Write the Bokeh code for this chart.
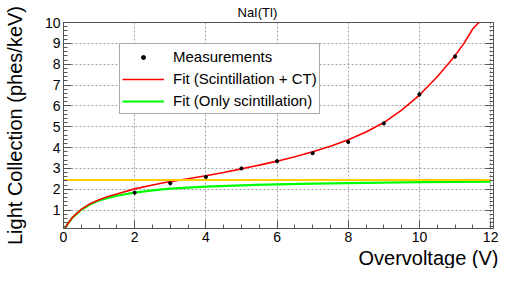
from bokeh.plotting import figure
from bokeh.models import (ColumnDataSource, Range1d, SingleIntervalTicker, LinearAxis,
                          Legend, LegendItem, Title, CustomJSTickFormatter)
from bokeh.embed import file_html
from bokeh.resources import INLINE

FONT = "Liberation Sans"

# ---- data ----
meas_x = [2, 3, 4, 5, 6, 7, 8, 9, 10, 11]
meas_y = [1.84, 2.29, 2.59, 3.00, 3.35, 3.73, 4.27, 5.16, 6.55, 8.37]
meas_err = [0.08, 0.10, 0.05, 0.03, 0.03, 0.03, 0.05, 0.03, 0.10, 0.10]

fit_ct_x = [0, 0.1, 0.25, 0.5, 0.75, 1, 1.25, 1.5, 2, 2.5, 3, 3.5, 4, 4.5, 5, 5.5,
            6, 6.5, 7, 7.5, 8, 8.5, 9, 9.5, 10, 10.5, 11, 11.25, 11.5, 11.67, 11.8]
fit_ct_y = [0, 0.30, 0.65, 1.04, 1.31, 1.50, 1.65, 1.77, 2.02, 2.21, 2.37, 2.51, 2.65, 2.81,
            2.98, 3.16, 3.35, 3.56, 3.80, 4.07, 4.38, 4.75, 5.20, 5.80, 6.52, 7.40, 8.41,
            9.00, 9.70, 10.0, 10.5]

fit_sc_x = [0, 0.1, 0.25, 0.5, 0.75, 1, 1.25, 1.5, 2, 2.5, 3, 4, 5, 6, 7, 8, 9, 10, 11, 12]
fit_sc_y = [0, 0.30, 0.64, 1.02, 1.28, 1.46, 1.59, 1.69, 1.84, 1.95, 2.03, 2.13, 2.19, 2.24,
            2.27, 2.30, 2.32, 2.34, 2.35, 2.37]

level_x = [0, 12]
level_y = [2.45, 2.45]

X_MIN, X_MAX = 0, 12.08
Y_MIN, Y_MAX = 0.12, 10

title_text = "NaI(Tl)"
x_label = "Overvoltage (V)"
y_label = "Light Collection (phes/keV)"
legend_labels = ["Measurements", "Fit (Scintillation + CT)", "Fit (Only scintillation)"]

# ---- figure ----
p = figure(width=499, height=268, output_backend="svg", toolbar_location=None,
           x_range=Range1d(X_MIN, X_MAX), y_range=Range1d(Y_MIN, Y_MAX),
           min_border_left=0, min_border_right=6, min_border_top=20, min_border_bottom=0,
           title=title_text)
p.background_fill_color = "white"
p.border_fill_color = "white"
p.outline_line_color = "#555555"
p.outline_line_width = 1

p.title.text_font = FONT
p.title.text_font_size = "13px"
p.title.text_font_style = "normal"
p.title.text_color = "black"
p.title.align = "left"
p.title.offset = 174
p.title.standoff = 5

xt = SingleIntervalTicker(interval=2, num_minor_ticks=4)
yt = SingleIntervalTicker(interval=1, num_minor_ticks=5)

xa = p.xaxis[0]
xa.ticker = xt
ya = p.yaxis[0]
ya.ticker = yt
for ax in (xa, ya):
    ax.major_tick_in = 8
    ax.major_tick_out = 0
    ax.minor_tick_in = 4
    ax.minor_tick_out = 0
    ax.axis_line_color = "#555555"
    ax.major_tick_line_color = "#555555"
    ax.minor_tick_line_color = "#555555"
    ax.major_label_text_font = FONT
    ax.major_label_text_font_size = "14px"
    ax.major_label_text_color = "black"
    ax.major_label_standoff = 3

ya.axis_label = y_label
ya.axis_label_text_font = FONT
ya.axis_label_text_font_size = "20px"
ya.axis_label_text_font_style = "normal"
ya.axis_label_text_color = "black"
ya.axis_label_standoff = 16

ra = LinearAxis(ticker=yt, major_tick_in=8, major_tick_out=0, minor_tick_in=4, minor_tick_out=0,
                axis_line_color=None, major_tick_line_color="#555555",
                minor_tick_line_color="#555555",
                formatter=CustomJSTickFormatter(code="return ''"),
                major_label_standoff=0)
p.add_layout(ra, "right")

p.add_layout(Title(text=x_label, align="right", text_font=FONT, text_font_size="20px",
                   text_font_style="normal", text_color="black", standoff=0, offset=-5),
             "below")

for g in (p.xgrid[0], p.ygrid[0]):
    g.grid_line_color = "#a0a0a0"
    g.grid_line_dash = "2 2"
    g.grid_line_width = 1
p.xgrid[0].ticker = xt
p.ygrid[0].ticker = yt

# ---- glyphs ----
g_sc = p.line(fit_sc_x, fit_sc_y, line_color="#00ff00", line_width=2.2)
g_ct = p.line(fit_ct_x, fit_ct_y, line_color="#ff0000", line_width=1.6)
p.line(level_x, level_y, line_color="#ffcc00", line_width=2)

src = ColumnDataSource(dict(x=meas_x, y=meas_y,
                            lo=[a - b for a, b in zip(meas_y, meas_err)],
                            hi=[a + b for a, b in zip(meas_y, meas_err)]))
p.segment(x0="x", y0="lo", x1="x", y1="hi", source=src, line_color="black", line_width=1.5)
g_pts = p.scatter("x", "y", source=src, size=3.2, color="black")

legend = Legend(items=[LegendItem(label=legend_labels[0], renderers=[g_pts]),
                       LegendItem(label=legend_labels[1], renderers=[g_ct]),
                       LegendItem(label=legend_labels[2], renderers=[g_sc])],
                location=(56, 114), padding=2, spacing=1, margin=0,
                glyph_width=42, glyph_height=10, label_height=21, label_standoff=9,
                label_text_font=FONT, label_text_font_size="15px", label_text_color="black",
                border_line_color="#555555", border_line_width=1,
                background_fill_color="white", background_fill_alpha=1)
p.add_layout(legend)

open("out.html", "w").write(file_html(p, INLINE))
